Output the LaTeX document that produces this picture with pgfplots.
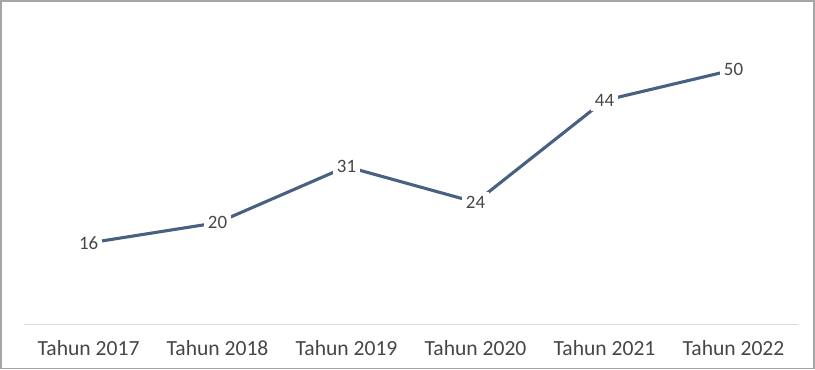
\documentclass[border=0pt]{standalone}
\usepackage{pgfplots}
\pgfplotsset{compat=1.18}
\usepackage{fontspec}
\setmainfont{Carlito}
\definecolor{linec}{RGB}{72,96,130}
\definecolor{labc}{RGB}{70,70,70}
\definecolor{basec}{RGB}{217,217,217}
\begin{document}
\begin{tikzpicture}
\begin{axis}[
  scale only axis,
  width=573.75pt, height=216pt,
  xmin=-0.5, xmax=5.5, ymin=0, ymax=57.2,
  /pgf/number format/assume math mode=true,
  axis y line=none,
  axis x line*=bottom,
  x axis line style={basec, line width=0.8pt, -},
  xtick=data,
  xticklabels={Tahun 2017,Tahun 2018,Tahun 2019,Tahun 2020,Tahun 2021,Tahun 2022},
  xtick style={draw=none},
  x tick label style={font=\fontsize{16}{19}\selectfont, text=labc, yshift=-8pt},
  clip=false,
  nodes near coords,
  nodes near coords align={center},
  every node near coord/.append style={font=\fontsize{14}{17}\selectfont, text=labc, fill=white, inner sep=3pt},
]
\addplot[linec, line width=2.3pt] coordinates {(0,16) (1,20) (2,31) (3,24) (4,44) (5,50)};
\end{axis}
\draw[gray!70, line width=1.2pt] ([xshift=-17.25pt,yshift=-32.5pt]current axis.south west) rectangle ([xshift=12pt,yshift=24pt]current axis.north east);
\end{tikzpicture}
\end{document}
